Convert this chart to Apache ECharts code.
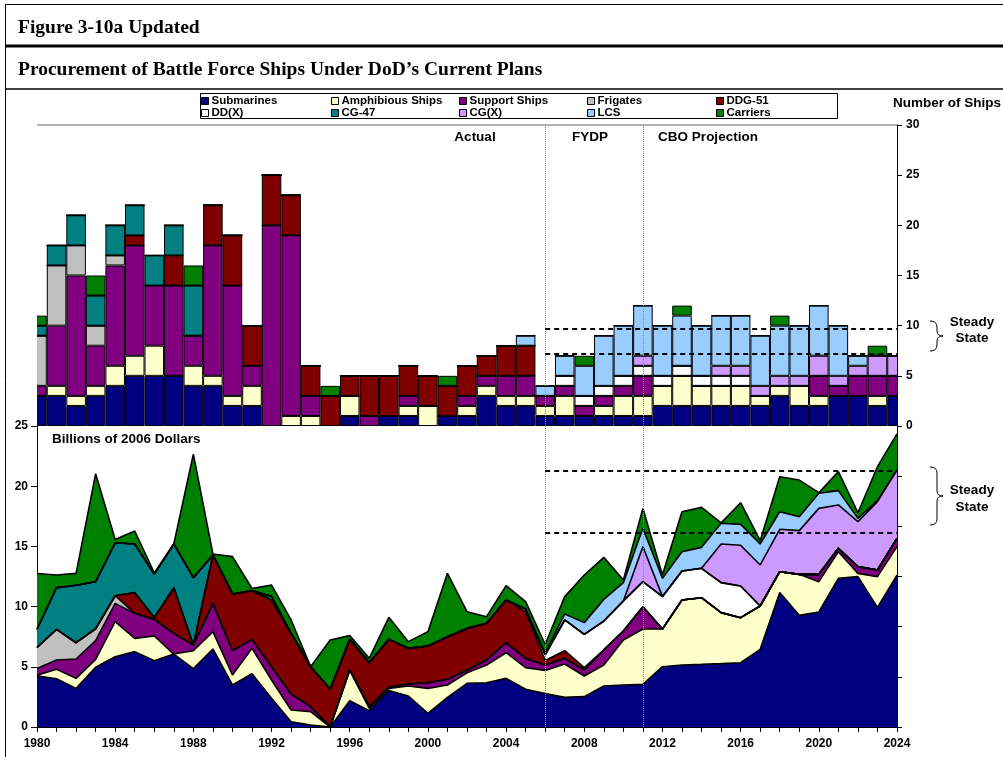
<!DOCTYPE html>
<html>
<head>
<meta charset="utf-8">
<script src="https://cdn.jsdelivr.net/npm/echarts@6/dist/echarts.min.js"></script>
<style>
  html, body { margin: 0; padding: 0; background: #fff; }
  #wrap { position: relative; width: 1003px; height: 757px; }
  #chart { position: absolute; left: 0; top: 0; width: 1003px; height: 757px; }
  /* the ships panel sits in its own box so the half bars at 1980 and 2024 are cut at the plot edge */
  #bars { position: absolute; left: 37px; top: 125px; width: 860px; height: 301px; }
</style>
</head>
<body>
<div id="wrap">
  <div id="chart"></div>
  <div id="bars"></div>
</div>
<script>
// years on the x axis
const years = ['1980','1981','1982','1983','1984','1985','1986','1987','1988','1989',
  '1990','1991','1992','1993','1994','1995','1996','1997','1998','1999',
  '2000','2001','2002','2003','2004','2005','2006','2007','2008','2009',
  '2010','2011','2012','2013','2014','2015','2016','2017','2018','2019',
  '2020','2021','2022','2023','2024'];

const shipTypes = ['Submarines','Amphibious Ships','Support Ships','Frigates','DDG-51',
  'DD(X)','CG-47','CG(X)','LCS','Carriers'];

// number of ships bought per year (top panel)
const shipsSub     = [3,3,2,3,4,5,5,5,4,4, 2,2,0,0,0,0,1,0,1,1, 0,1,1,3,2,2,1,1,1,1, 1,1,2,2,2,2,2,2,3,2, 2,3,3,2,3];
const shipsAmph    = [0,1,1,1,2,2,3,0,2,1, 1,2,0,1,1,0,2,0,0,1, 2,0,1,1,1,1,1,2,0,1, 2,2,2,3,2,2,2,1,1,2, 1,0,0,1,0];
const shipsSupport = [1,6,12,4,10,11,6,9,3,13, 11,2,20,18,2,0,0,1,0,1, 0,0,1,1,2,2,1,1,1,1, 1,2,0,0,0,0,0,0,0,0, 2,1,2,2,2];
const shipsFrig    = [5,6,3,2,1,0,0,0,0,0, 0,0,0,0,0,0,0,0,0,0, 0,0,0,0,0,0,0,0,0,0, 0,0,0,0,0,0,0,0,0,0, 0,0,0,0,0];
const shipsDDG     = [0,0,0,0,0,1,0,3,0,4, 5,4,5,4,3,3,2,4,4,3, 3,3,3,2,3,3,0,0,0,0, 0,0,0,0,0,0,0,0,0,0, 0,0,0,0,0];
const shipsDDX     = [0,0,0,0,0,0,0,0,0,0, 0,0,0,0,0,0,0,0,0,0, 0,0,0,0,0,0,0,1,1,1, 1,1,1,1,1,1,1,0,0,0, 0,0,0,0,0];
const shipsCG47    = [1,2,3,3,3,3,3,3,5,0, 0,0,0,0,0,0,0,0,0,0, 0,0,0,0,0,0,0,0,0,0, 0,0,0,0,0,0,0,0,0,0, 0,0,0,0,0];
const shipsCGX     = [0,0,0,0,0,0,0,0,0,0, 0,0,0,0,0,0,0,0,0,0, 0,0,0,0,0,0,0,0,0,0, 0,1,0,0,0,1,1,1,1,1, 2,1,1,2,2];
const shipsLCS     = [0,0,0,0,0,0,0,0,0,0, 0,0,0,0,0,0,0,0,0,0, 0,0,0,0,0,1,1,2,3,5, 5,5,5,5,5,5,5,5,5,5, 5,5,1,0,0];
const shipsCarrier = [1,0,0,2,0,0,0,0,2,0, 0,0,0,0,0,1,0,0,0,0, 0,1,0,0,0,0,0,0,1,0, 0,0,0,1,0,0,0,0,1,0, 0,0,0,1,0];

// billions of 2006 dollars per year (bottom panel)
const costSub     = [4.26,4.01,3.21,4.96,5.84,6.26,5.51,6.06,4.85,6.48, 3.49,4.42,2.38,0.44,0.17,0,2.19,1.36,3.02,2.57, 1.14,2.46,3.63,3.68,4.04,3.13,2.77,2.46,2.52,3.41, 3.49,3.54,5.01,5.15,5.2,5.26,5.34,6.45,11.16,9.27, 9.55,12.35,12.49,9.94,12.62];
const costAmph    = [0.04,0.78,0.83,0.66,2.91,1.1,2.05,0,1.49,1.44, 0.83,2.11,1.52,0.97,1.1,0,2.54,0.19,0.19,0.84, 2.07,1.03,0.88,1.47,2.13,1.8,1.93,2.77,1.72,1.74, 3.74,4.6,3.13,5.4,5.54,4.24,3.74,3.6,1.74,3.41, 2.52,2.21,0.27,2.55,2.36];
const costSupport = [0.55,0.77,1.61,1.56,1.52,2.08,1.38,1.72,0.47,2.35, 2.02,0.75,1.1,1.33,0.42,0,0,0.14,0.08,0.16, 0.47,0.47,0.22,0.41,0.83,0.77,0.45,0.47,0.49,1.25, 0.74,1.85,0,0,0,0,0,0,0,0, 0.61,0.28,0.56,0.55,0.69];
const costFrig    = [1.75,2.55,1.35,0.98,0.63,0,0,0,0,0, 0,0,0,0,0,0,0,0,0,0, 0,0,0,0,0,0,0,0,0,0, 0,0,0,0,0,0,0,0,0,0, 0,0,0,0,0];
const costDDG     = [0,0,0,0,0,1.72,0.15,3.79,0,4.02, 4.71,4.04,5.55,5.04,3.32,3.13,2.55,3.65,3.99,2.96, 3.05,3.54,3.46,3.05,3.55,3.88,0.38,0.64,0.2,0, 0,0,0,0,0,0,0,0,0,0, 0,0,0,0,0];
const costDDX     = [0,0,0,0,0,0,0,0,0,0, 0,0,0,0,0,0,0,0,0,0, 0,0,0,0,0,0.22,0.47,2.55,2.77,2.4, 2.5,2.08,2.69,2.41,2.44,2.49,2.63,0,0,0, 0,0,0,0,0];
const costCG47    = [1.52,3.46,4.77,3.91,4.4,4.04,3.62,3.63,5.59,0, 0,0,0.3,0,0,0,0,0,0,0, 0,0,0,0,0,0,0,0,0,0, 0,0,0,0,0,0,0,0,0,0, 0,0,0,0,0];
const costCGX     = [0,0,0,0,0,0,0,0,0,0, 0,0,0,0,0,0,0,0,0,0, 0,0,0,0,0,0,0,0,0,0, 0,2.91,0,0,0,3.21,3.38,3.41,3.52,3.63, 5.48,3.6,3.73,5.68,5.68];
const costLCS     = [0,0,0,0,0,0,0,0,0,0, 0,0,0,0,0,0,0,0,0,0, 0,0,0,0,0,0,0.15,0.5,0.97,1.8, 1.52,1.52,1.52,1.6,1.74,1.72,1.74,1.74,1.46,1.16, 1.25,1.19,0.28,0.08,0];
const costCarrier = [4.63,1.05,0.99,8.96,0.27,1.08,0.09,0,10.27,0.08, 3.1,0.18,0.94,1.11,0,4.1,0.31,0.36,1.83,0.56, 1.19,5.26,1.39,0.55,1.19,0.61,0.7,1.44,3.95,3.49, 0.22,1.66,0.27,3.32,3.32,0.03,1.8,0.28,2.91,3.04, 0.05,1.58,0.47,2.82,2.99];

// reference lines
const phaseYears = ['2006', '2011'];
const steadyShips = [7.18, 9.67];
const steadyDollars = [16.1, 21.26];

const colors = ['#000080','#FFFFCC','#800080','#C0C0C0','#800000','#FFFFFF','#008080','#CC99FF','#99CCFF','#008000'];
const shipData = [shipsSub, shipsAmph, shipsSupport, shipsFrig, shipsDDG, shipsDDX, shipsCG47, shipsCGX, shipsLCS, shipsCarrier];
const costData = [costSub, costAmph, costSupport, costFrig, costDDG, costDDX, costCG47, costCGX, costLCS, costCarrier];

const FONT = 'Liberation Sans, Arial, sans-serif';
const SERIF = 'Liberation Serif, Times New Roman, serif';
const lastIdx = years.length - 1;
const startIdx = years.indexOf(phaseYears[0]);

const dotted = { color: '#888', type: 'dotted', width: 1 };
const dashed = { color: '#000', type: [5, 4], width: 2 };

const refLines = steady => ({
  silent: true, symbol: 'none', label: { show: false }, animation: false,
  data: [
    ...phaseYears.map(y => ({ xAxis: years.indexOf(y), lineStyle: dotted })),
    ...steady.map(v => [{ coord: [startIdx, v], lineStyle: dashed }, { coord: [lastIdx, v] }])
  ]
});

// ---------- top panel: ships per year ----------
const barChart = echarts.init(document.getElementById('bars'));
barChart.setOption({
  animation: false,
  grid: { left: 0, top: 0, width: 860, height: 301 },
  xAxis: { type: 'category', data: years, boundaryGap: false, show: false },
  yAxis: { type: 'value', min: 0, max: 30, interval: 5, show: false },
  series: [
    ...shipTypes.map((name, i) => ({
      name, type: 'bar', stack: 'ships', barCategoryGap: '0%', data: shipData[i],
      itemStyle: { color: colors[i], borderColor: '#000', borderWidth: 1 },
      emphasis: { disabled: true }
    })),
    { type: 'line', data: [], z: 10, markLine: refLines(steadyShips) }
  ]
});

// ---------- frame, legend, axes and bottom panel ----------
const chart = echarts.init(document.getElementById('chart'));

const areaSeries = shipTypes.map((name, i) => ({
  name, type: 'line', xAxisIndex: 1, yAxisIndex: 1, stack: 'cost',
  data: costData[i], symbol: 'none', smooth: false,
  itemStyle: { color: colors[i] },
  lineStyle: { color: '#000', width: 1.6 },
  areaStyle: { color: colors[i], opacity: 1 },
  emphasis: { disabled: true }
}));

// legend laid out as five columns of two items
const legendCols = [[0, 5], [1, 6], [2, 7], [3, 8], [4, 9]];
const legendLeft = [201, 331, 459, 587, 716];
const legends = legendCols.map((col, i) => ({
  orient: 'vertical', left: legendLeft[i], top: 95, padding: 0,
  itemGap: 0, itemWidth: 7, itemHeight: 7, icon: 'rect', selectedMode: false,
  data: col.map(k => ({ name: shipTypes[k], itemStyle: { color: colors[k] } })),
  itemStyle: { borderColor: '#000', borderWidth: 1 },
  textStyle: { fontFamily: FONT, fontSize: 11.5, fontWeight: 'bold', color: '#000', lineHeight: 12, padding: [0, 0, 0, -2] }
}));

const axisLabelStyle = { color: '#000', fontFamily: FONT, fontSize: 12, fontWeight: 'bold' };
const blackLine = { lineStyle: { color: '#000', width: 1 } };

const txt = (x, y, text, opts) => ({
  type: 'text', x, y, silent: true,
  style: Object.assign({ text, font: 'bold 13.5px ' + FONT, fill: '#000', align: 'left', verticalAlign: 'middle' }, opts || {})
});
const line = (x1, y1, x2, y2, w, c) => ({
  type: 'line', silent: true, shape: { x1, y1, x2, y2 }, style: { stroke: c || '#000', lineWidth: w }
});
const curve = (x1, y1, cx, cy, x2, y2) => ({
  type: 'bezierCurve', silent: true, shape: { x1, y1, cpx1: cx, cpy1: cy, x2, y2 }, style: { stroke: '#000', fill: null, lineWidth: 1 }
});
// right curly brace between y0 and y1, opening at x0, spine at x0+7, tip at x0+13
const brace = (x0, y0, y1) => {
  const s = x0 + 7, t = x0 + 13, m = (y0 + y1) / 2;
  return [
    curve(x0, y0, s, y0, s, y0 + 6),
    line(s, y0 + 6, s, m - 5, 1),
    curve(s, m - 5, s, m, t, m),
    curve(t, m, s, m, s, m + 5),
    line(s, m + 5, s, y1 - 6, 1),
    curve(s, y1 - 6, s, y1, x0, y1)
  ];
};

chart.setOption({
  animation: false,
  backgroundColor: '#fff',
  grid: [
    { left: 37, top: 125, width: 860, height: 301 },
    { left: 37, top: 426, width: 860, height: 301 }
  ],
  legend: legends,
  xAxis: [
    { gridIndex: 0, type: 'category', data: years, boundaryGap: false, show: false },
    {
      gridIndex: 1, type: 'category', data: years, boundaryGap: false,
      axisLine: blackLine,
      axisTick: { interval: 0, length: 5, lineStyle: { color: '#000' } },
      axisLabel: Object.assign({ interval: 3, margin: 11 }, axisLabelStyle),
      splitLine: { show: false }
    }
  ],
  yAxis: [
    {
      gridIndex: 0, type: 'value', position: 'right', min: 0, max: 30, interval: 5,
      axisLine: Object.assign({ show: true }, blackLine),
      axisTick: { show: true, length: 5, lineStyle: { color: '#000' } },
      axisLabel: Object.assign({ margin: 9 }, axisLabelStyle),
      splitLine: { show: false }
    },
    {
      gridIndex: 1, type: 'value', position: 'left', min: 0, max: 25, interval: 5,
      axisLine: Object.assign({ show: true }, blackLine),
      axisTick: { show: true, length: 6, lineStyle: { color: '#000' } },
      axisLabel: Object.assign({ margin: 9 }, axisLabelStyle),
      splitLine: { show: false }
    },
    {
      gridIndex: 1, type: 'value', position: 'right', min: 0, max: 30, interval: 5,
      axisLine: Object.assign({ show: true }, blackLine),
      axisTick: { show: true, length: 5, lineStyle: { color: '#000' } },
      axisLabel: { show: false },
      splitLine: { show: false }
    }
  ],
  graphic: [
    // page frame and header rules
    line(5, 4.5, 1003, 4.5, 1),
    line(5.5, 4, 5.5, 757, 1),
    line(5, 46, 1003, 46, 3),
    line(5, 89, 1003, 89, 1.5),
    txt(18, 28, 'Figure 3-10a Updated', { font: 'bold 19.5px ' + SERIF }),
    txt(18, 70, 'Procurement of Battle Force Ships Under DoD\u2019s Current Plans', { font: 'bold 19.5px ' + SERIF }),
    // legend box
    { type: 'rect', silent: true, shape: { x: 200.5, y: 93.5, width: 637, height: 25 }, style: { stroke: '#000', fill: null, lineWidth: 1 } },
    // top border of the ships panel
    line(37, 125, 897, 125, 1.5, '#999'),
    txt(893, 103, 'Number of Ships'),
    txt(475, 137, 'Actual', { align: 'center' }),
    txt(590, 137, 'FYDP', { align: 'center' }),
    txt(708, 137, 'CBO Projection', { align: 'center' }),
    txt(52, 439, 'Billions of 2006 Dollars'),
    // steady state braces
    ...brace(930, 321, 351),
    ...brace(930, 467, 525),
    txt(972, 322, 'Steady', { align: 'center' }),
    txt(972, 338, 'State', { align: 'center' }),
    txt(972, 490, 'Steady', { align: 'center' }),
    txt(972, 507, 'State', { align: 'center' })
  ],
  series: [
    ...areaSeries,
    { type: 'line', xAxisIndex: 1, yAxisIndex: 1, data: [], z: 10, markLine: refLines(steadyDollars) }
  ]
});
</script>
</body>
</html>
